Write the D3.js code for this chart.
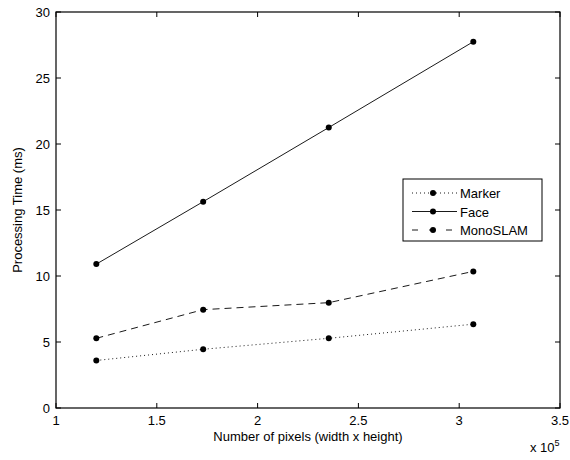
<!DOCTYPE html>
<html>
<head>
<meta charset="utf-8">
<script src="https://cdn.jsdelivr.net/npm/d3@7"></script>
<style>
  body { margin: 0; background: #fff; }
  text { font-family: "Liberation Sans", Arial, sans-serif; fill: #000; }
</style>
</head>
<body>
<svg id="chart" width="570" height="460"></svg>
<script>
// x values in units of 10^5 pixels
const pixels = [1.2, 1.73, 2.353, 3.07];
const markerTimes = [3.6, 4.45, 5.28, 6.35];
const faceTimes = [10.9, 15.63, 21.25, 27.75];
const monoTimes = [5.28, 7.45, 7.98, 10.35];
const seriesNames = ["Marker", "Face", "MonoSLAM"];
const xTicks = [1, 1.5, 2, 2.5, 3, 3.5];
const yTicks = [0, 5, 10, 15, 20, 25, 30];

translate = function(a, b) {
  return "translate(" + a + ", " + b + ")";
}

const margin = { top: 12, right: 10, bottom: 52, left: 56 };
const svg = d3.select("#chart");
const width = 570 - margin.left - margin.right;
const height = 460 - margin.top - margin.bottom;

let x = d3.scaleLinear().domain([1, 3.5]).range([0, width]);
let y = d3.scaleLinear().domain([0, 30]).range([height, 0]);

let plot = svg.append("g").attr("transform", translate(margin.left, margin.top));

// matlab style ticks pointing inward on all four sides
let tickLen = 5;
let ticks = plot.append("g").attr("stroke", "#000").attr("stroke-width", 1);
xTicks.forEach(function(t) {
  ticks.append("line").attr("x1", x(t)).attr("x2", x(t)).attr("y1", height).attr("y2", height - tickLen);
  ticks.append("line").attr("x1", x(t)).attr("x2", x(t)).attr("y1", 0).attr("y2", tickLen);
});
yTicks.forEach(function(t) {
  ticks.append("line").attr("x1", 0).attr("x2", tickLen).attr("y1", y(t)).attr("y2", y(t));
  ticks.append("line").attr("x1", width).attr("x2", width - tickLen).attr("y1", y(t)).attr("y2", y(t));
});

plot.append("rect")
  .attr("x", 0).attr("y", 0)
  .attr("width", width).attr("height", height)
  .attr("fill", "none")
  .attr("stroke", "#000")
  .attr("stroke-width", 1.2);

// tick labels
plot.selectAll("text.xt")
  .data(xTicks)
  .enter()
  .append("text")
  .attr("class", "xt")
  .attr("x", d => x(d))
  .attr("y", height + 17)
  .attr("text-anchor", "middle")
  .style("font-size", "13px")
  .text(d => d);

plot.selectAll("text.yt")
  .data(yTicks)
  .enter()
  .append("text")
  .attr("class", "yt")
  .attr("x", -6)
  .attr("y", d => y(d) + 5)
  .attr("text-anchor", "end")
  .style("font-size", "13px")
  .text(d => d);

// exponent
let expo = plot.append("text")
  .attr("x", width - 30)
  .attr("y", height + 44)
  .style("font-size", "13px");
expo.append("tspan").text("x 10");
expo.append("tspan").attr("dy", -6).style("font-size", "9px").text("5");

// axis labels
plot.append("text")
  .attr("x", width / 2)
  .attr("y", height + 33)
  .attr("text-anchor", "middle")
  .style("font-size", "13px")
  .text("Number of pixels (width x height)");

plot.append("text")
  .attr("transform", translate(-34, height / 2) + " rotate(-90)")
  .attr("text-anchor", "middle")
  .style("font-size", "13px")
  .text("Processing Time (ms)");

// series
let dashes = ["1,3", null, "7,5"];
let allSeries = [markerTimes, faceTimes, monoTimes];
let line = d3.line()
  .x(d => x(d[0]))
  .y(d => y(d[1]));

allSeries.forEach(function(vals, i) {
  let pts = pixels.map((p, j) => [p, vals[j]]);
  plot.append("path")
    .datum(pts)
    .attr("d", line)
    .attr("fill", "none")
    .attr("stroke", "#000")
    .attr("stroke-width", 0.9)
    .attr("stroke-dasharray", dashes[i]);
  plot.selectAll("circle.s" + i)
    .data(pts)
    .enter()
    .append("circle")
    .attr("class", "s" + i)
    .attr("cx", d => x(d[0]))
    .attr("cy", d => y(d[1]))
    .attr("r", 3)
    .attr("fill", "#000");
});

// legend
let legend = svg.append("g").attr("transform", translate(403, 179));
legend.append("rect")
  .attr("width", 139).attr("height", 62)
  .attr("fill", "#fff")
  .attr("stroke", "#000")
  .attr("stroke-width", 1);

seriesNames.forEach(function(name, i) {
  let ly = 14 + i * 18.5;
  legend.append("line")
    .attr("x1", 9).attr("x2", 54)
    .attr("y1", ly).attr("y2", ly)
    .attr("stroke", "#000")
    .attr("stroke-width", 0.9)
    .attr("stroke-dasharray", dashes[i] == "7,5" ? "6,11" : dashes[i]);
  legend.append("circle")
    .attr("cx", 30).attr("cy", ly)
    .attr("r", 3)
    .attr("fill", "#000");
  legend.append("text")
    .attr("x", 57).attr("y", ly + 5)
    .style("font-size", "13px")
    .text(name);
});
</script>
</body>
</html>
